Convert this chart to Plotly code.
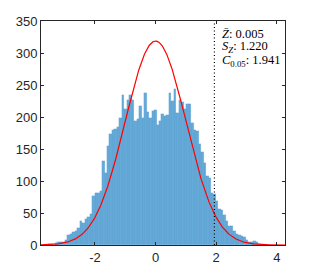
import numpy as np
import plotly.graph_objects as go

# ---- data ----
bin_start = -3.564
bin_width = 0.0817
counts = [
    2, 1, 0, 3, 4, 5, 5, 8, 16, 17,
    20, 22, 26, 37, 34, 41, 44, 48, 76, 82,
    82, 85, 131, 113, 155, 173, 180, 182, 184, 199,
    235, 212, 227, 235, 227, 194, 197, 217, 199, 238,
    208, 198, 209, 211, 187, 193, 204, 202, 203, 238,
    225, 244, 207, 227, 224, 212, 221, 221, 191, 180,
    178, 158, 145, 128, 108, 105, 82, 79, 69, 57,
    55, 47, 37, 29, 30, 22, 17, 15, 14, 13,
    8, 4, 4, 6, 5, 2,
]
z_mean = 0.005
s_z = 1.220
c_crit = 1.941
x_range = [-3.78, 4.27]
y_range = [0, 350]
x_ticks = [-2, 0, 2, 4]
y_ticks = [0, 50, 100, 150, 200, 250, 300, 350]

centers = bin_start + bin_width * (np.arange(len(counts)) + 0.5)
xs = np.linspace(x_range[0], x_range[1], 500)
pdf = sum(counts) * bin_width * np.exp(-xs ** 2 / 2) / np.sqrt(2 * np.pi)

fig = go.Figure()
fig.add_trace(go.Bar(
    x=centers, y=counts, width=bin_width,
    marker=dict(color="rgba(0,114,189,0.6)",
                line=dict(color="rgba(0,114,189,0.25)", width=0.4)),
    showlegend=False, hoverinfo="skip",
))
fig.add_trace(go.Scatter(
    x=xs, y=pdf, mode="lines",
    line=dict(color="#ff0000", width=1.2),
    showlegend=False, hoverinfo="skip",
))

fig.add_shape(type="line", xref="x", yref="paper",
              x0=c_crit, x1=c_crit, y0=0, y1=1,
              line=dict(color="black", width=1.2, dash="1px,2.5px"))

txt_font = dict(family="Liberation Serif", size=12.5, color="black")
labels = [
    f"<i>Z\u0304</i>: {z_mean:.3f}",
    f"<i>S<sub>Z</sub></i>: {s_z:.3f}",
    f"<i>C</i><sub>0.05</sub>: {c_crit:.3f}",
]
ypos = [0.942, 0.884, 0.823]
for lab, yp in zip(labels, ypos):
    fig.add_annotation(x=c_crit, xref="x", xshift=6, y=yp, yref="paper",
                       text=lab, showarrow=False, xanchor="left",
                       yanchor="middle", font=txt_font)

axis_common = dict(
    showline=True, linecolor="#262626", linewidth=1, mirror="ticks",
    ticks="inside", ticklen=3, tickcolor="#262626", tickwidth=1,
    showgrid=False, zeroline=False, automargin=False,
    tickfont=dict(family="Liberation Sans", size=13, color="#262626"),
)
fig.update_xaxes(range=x_range, tickvals=x_ticks,
                 ticktext=[str(v) for v in x_ticks], **axis_common)
fig.update_yaxes(range=y_range, tickvals=y_ticks, **axis_common)

# the page body adds an 8px offset; margins compensate for it
fig.update_layout(
    width=308, height=267,
    margin=dict(l=33, r=31, t=13, b=30),
    paper_bgcolor="white", plot_bgcolor="white",
    bargap=0,
)
fig.write_html("out.html")
